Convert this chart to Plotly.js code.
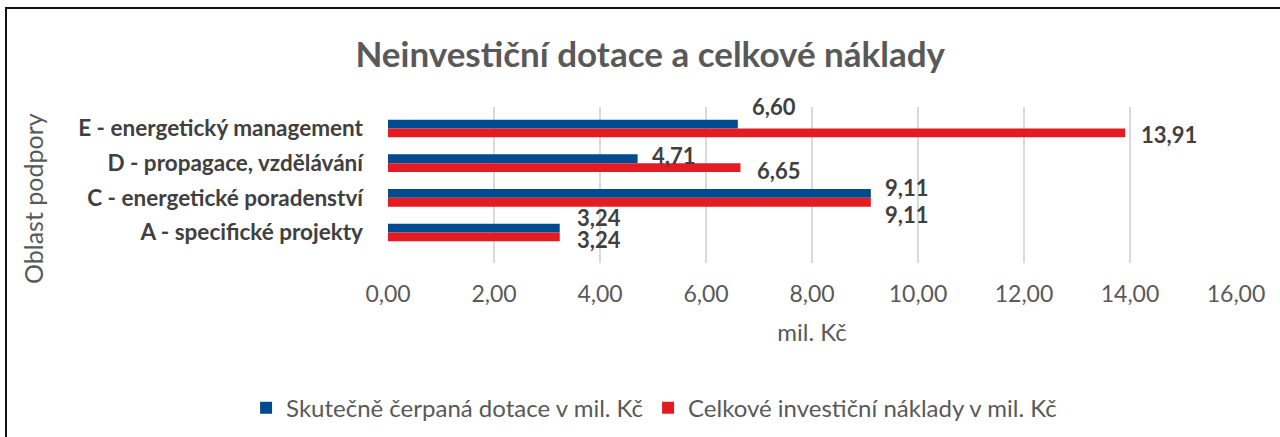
<!DOCTYPE html>
<html>
<head>
<meta charset="utf-8">
<script src="https://cdn.plot.ly/plotly-3.0.1.min.js"></script>
<style>
  html, body { margin: 0; padding: 0; background: #ffffff; overflow: hidden; }
  #chart { position: absolute; left: 0; top: 0; width: 1280px; height: 437px; }
  #frame { position: absolute; left: 5px; top: 7px; width: 1400px; height: 600px;
           border-left: 2px solid #111; border-top: 2px solid #111; pointer-events: none; }
</style>
</head>
<body>
<div id="chart"></div>
<div id="frame"></div>
<script>
// ---- data ----
const categories = [
  "E - energetický management",
  "D - propagace, vzdělávání",
  "C - energetické poradenství",
  "A - specifické projekty"
];
const seriesNames = [
  "Skutečně čerpaná dotace v mil. Kč",
  "Celkové investiční náklady v mil. Kč"
];
const dotace = [6.60, 4.71, 9.11, 3.24];
const naklady = [13.91, 6.65, 9.11, 3.24];
const xTicks = [0, 2, 4, 6, 8, 10, 12, 14, 16];
const yTitle = "Oblast podpory";

// ---- styles ----
const colors = ["#004A8F", "#E31B23"];
const fontFamily = "Lato, 'Open Sans', sans-serif";
// label offsets (px) for [dotace, naklady] per category, relative to value end / category center
const labelShiftX = [[12, 14], [12, 15], [12, 12], [15, 15]];
const labelShiftY = [[22, -6], [8, -7], [10, -17], [15, -7]];

const fmt = v => v.toFixed(2).replace(".", ",");

const traces = [dotace, naklady].map((vals, i) => ({
  type: "bar",
  orientation: "h",
  name: seriesNames[i],
  x: vals,
  y: categories,
  marker: { color: colors[i], line: { width: 0 } },
  hoverinfo: "none"
}));

const annotations = [];
[dotace, naklady].forEach((vals, s) => {
  vals.forEach((v, c) => {
    annotations.push({
      x: v, y: categories[c], xref: "x", yref: "y",
      text: fmt(v), showarrow: false,
      xanchor: "left", yanchor: "middle",
      xshift: labelShiftX[c][s], yshift: labelShiftY[c][s],
      font: { family: fontFamily, size: 22, color: "#404040", weight: 700 }
    });
  });
});
// y-axis title (placed as rotated annotation to match the reference's vertical offset)
annotations.push({
  x: 0, y: 0.5, xref: "paper", yref: "paper",
  text: yTitle, textangle: -90, showarrow: false,
  xanchor: "center", yanchor: "middle", xshift: -355, yshift: -14,
  font: { family: fontFamily, size: 25, color: "#595959" }
});

const layout = {
  width: 1280, height: 437,
  margin: { l: 388, r: 44, t: 107, b: 174, pad: 0 },
  paper_bgcolor: "#ffffff", plot_bgcolor: "#ffffff",
  separators: ", ",
  barmode: "group",
  bargap: 0.49,
  bargroupgap: 0,
  showlegend: true,
  title: {
    text: "Neinvestiční dotace a celkové náklady",
    font: { family: fontFamily, size: 35, color: "#595959", weight: 700 },
    x: 0.508, xanchor: "center", y: 0.875, yanchor: "middle", xref: "container", yref: "container"
  },
  xaxis: {
    range: [0, 16], tickvals: xTicks, tickformat: ".2f",
    showgrid: true, gridcolor: "#d9d9d9", gridwidth: 2,
    zeroline: false, showline: false, ticks: "",
    tickfont: { family: fontFamily, size: 23, color: "#595959" },
    ticklabelstandoff: 15,
    title: { text: "mil. Kč", font: { family: fontFamily, size: 24, color: "#595959" }, standoff: 18 },
    fixedrange: true
  },
  yaxis: {
    type: "category", autorange: "reversed",
    showgrid: false, zeroline: false, showline: false, ticks: "",
    tickfont: { family: fontFamily, size: 22.5, color: "#404040", weight: 700 },
    ticklabelstandoff: 24,
    fixedrange: true
  },
  legend: {
    orientation: "h", x: 0.511, xref: "container", xanchor: "center",
    y: 0.066, yref: "container", yanchor: "middle",
    font: { family: fontFamily, size: 24, color: "#595959" },
    itemwidth: 30, tracegroupgap: 0
  },
  annotations: annotations
};

Plotly.newPlot("chart", traces, layout, { staticPlot: true, displayModeBar: false });
</script>
</body>
</html>
